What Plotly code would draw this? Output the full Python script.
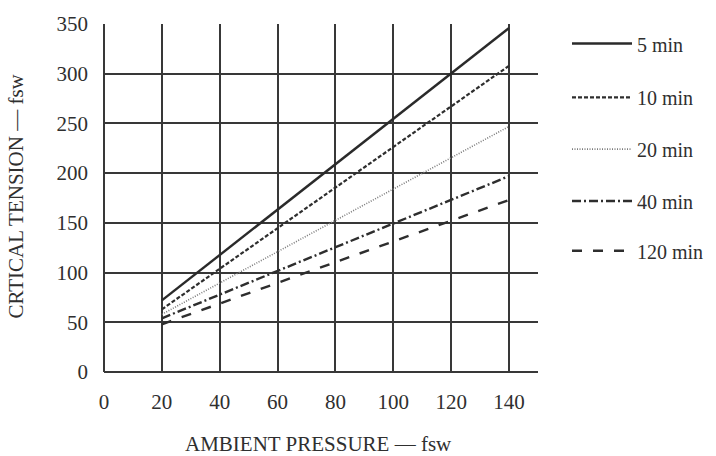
import plotly.graph_objects as go

# Critical tension vs ambient pressure for several tissue half-times
pressure = [20, 140]
tension_5 = [72, 346]
tension_10 = [63, 308]
tension_20 = [58, 247]
tension_40 = [54, 197]
tension_120 = [48, 173]

labels = ["5 min", "10 min", "20 min", "40 min", "120 min"]
x_ticks = [0, 20, 40, 60, 80, 100, 120, 140]
y_ticks = [0, 50, 100, 150, 200, 250, 300, 350]

W, H = 716, 456
ML, MR, MT, MB = 104, 178, 16, 84
PW, PH = W - ML - MR, H - MT - MB

FONT = "Liberation Serif"
INK = "#2f2f2f"
GRID = "#383838"

styles = [
    dict(color="#2a2a2a", width=2.4, dash="solid"),
    dict(color="#2e2e2e", width=2.2, dash="4px,2px"),
    dict(color="#7c7c7c", width=1.6, dash="1px,1.5px"),
    dict(color="#2e2e2e", width=2.4, dash="9px,3px,2px,3px"),
    dict(color="#2e2e2e", width=2.4, dash="10px,11px"),
]
series = [tension_5, tension_10, tension_20, tension_40, tension_120]


def px_x(px):
    return (px - ML) / PW


def px_y(py):
    return (H - MB - py) / PH


fig = go.Figure()
for name, vals, st in zip(labels, series, styles):
    fig.add_trace(go.Scatter(x=pressure, y=vals, mode="lines", name=name,
                             line=st, showlegend=False, hoverinfo="skip"))

# hand-placed key on the right
key_rows = [36, 91, 144, 197, 248]
shapes = []
annotations = []
for name, st, py in zip(labels, styles, key_rows):
    shapes.append(dict(type="line", xref="paper", yref="paper",
                       x0=px_x(572), x1=px_x(632), y0=px_y(py), y1=px_y(py),
                       line=st))
    annotations.append(dict(text=name, xref="paper", yref="paper",
                            x=px_x(635), y=px_y(py + 1), xanchor="left",
                            yanchor="middle", showarrow=False,
                            font=dict(family=FONT, size=20, color=INK)))

annotations.append(dict(text="AMBIENT PRESSURE \u2014 fsw", xref="paper", yref="paper",
                        x=px_x(318), y=px_y(446), xanchor="center", yanchor="middle",
                        showarrow=False, font=dict(family=FONT, size=21, color=INK)))
annotations.append(dict(text="CRTICAL TENSION \u2014 fsw", xref="paper", yref="paper",
                        x=px_x(16.5), y=px_y(192), xanchor="center", yanchor="middle",
                        textangle=-90, showarrow=False,
                        font=dict(family=FONT, size=21, color=INK)))

fig.update_layout(
    width=W, height=H,
    margin=dict(l=ML, r=MR, t=MT, b=MB, pad=0),
    paper_bgcolor="white", plot_bgcolor="white",
    shapes=shapes, annotations=annotations,
    xaxis=dict(range=[0, 150], tickvals=x_ticks, showgrid=True, gridcolor=GRID,
               gridwidth=2, zeroline=True, zerolinecolor=GRID, zerolinewidth=2,
               showline=False, ticks="", ticklabelstandoff=15,
               tickfont=dict(family=FONT, size=21, color=INK)),
    yaxis=dict(range=[0, 350], tickvals=y_ticks, showgrid=True, gridcolor=GRID,
               gridwidth=2, zeroline=True, zerolinecolor=GRID, zerolinewidth=2,
               showline=False, ticks="", ticklabelstandoff=15,
               tickfont=dict(family=FONT, size=21, color=INK)),
)

fig.write_html("out.html")
